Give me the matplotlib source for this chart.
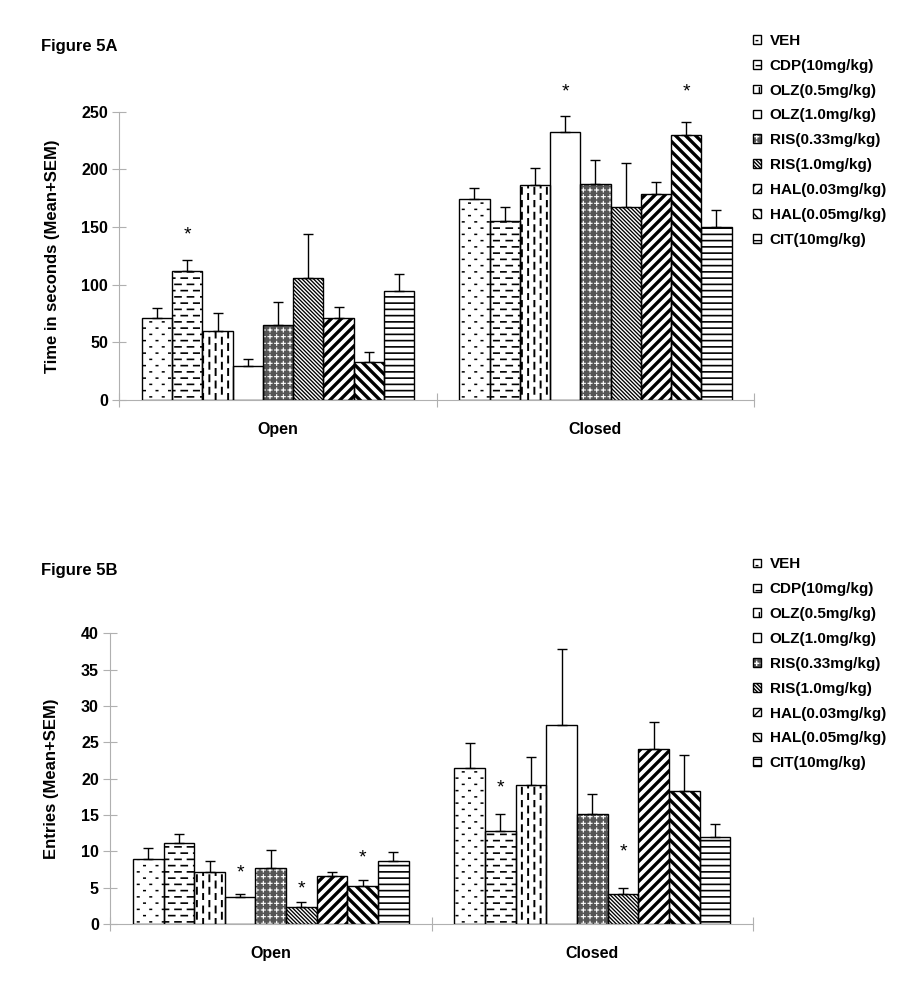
import warnings
import numpy as np
import matplotlib
matplotlib.use('Agg')
import matplotlib.pyplot as plt
from matplotlib import hatch as mhatch
from matplotlib.path import Path

warnings.filterwarnings('ignore', message='hatch must consist')

groups = ['Open', 'Closed']
treatments = ['VEH', 'CDP(10mg/kg)', 'OLZ(0.5mg/kg)', 'OLZ(1.0mg/kg)',
              'RIS(0.33mg/kg)', 'RIS(1.0mg/kg)', 'HAL(0.03mg/kg)',
              'HAL(0.05mg/kg)', 'CIT(10mg/kg)']

# Figure 5A: time in seconds
time_open = [71, 112, 60, 29.5, 65, 105.5, 71, 33, 94.5]
time_open_sem = [9, 9.5, 15, 6, 20, 38.5, 10, 9, 15]
time_closed = [174, 155, 186.5, 232.5, 187.5, 167, 179, 230, 150]
time_closed_sem = [10, 12, 15, 14, 21, 38.5, 10, 11, 15]
time_stars = [(0, 1, 143), (1, 3, 267), (1, 7, 267)]  # (group, treatment, height)

# Figure 5B: entries
entries_open = [9.0, 11.1, 7.2, 3.7, 7.7, 2.4, 6.55, 5.2, 8.7]
entries_open_sem = [1.5, 1.3, 1.4, 0.45, 2.5, 0.65, 0.65, 0.9, 1.2]
entries_closed = [21.5, 12.75, 19.1, 27.4, 15.2, 4.1, 24.1, 18.3, 11.9]
entries_closed_sem = [3.4, 2.35, 3.9, 10.4, 2.7, 0.9, 3.65, 4.9, 1.9]
entries_stars = [(0, 3, 7.0), (0, 5, 4.8), (0, 7, 9.1), (1, 1, 18.7), (1, 5, 9.95)]


# --- Excel-like fill patterns as extra hatch types (unit cell = 1 inch) ---
def staggered(nrows, ncols, length, vertical=False):
    segs = []
    for r in range(nrows):
        y = (r + 0.5) / nrows
        off = (r % 2) * 0.5 / ncols
        for c in range(ncols):
            x = c / ncols + off
            segs.append(((x, y), (x + length, y)))
    if vertical:
        segs = [((a[1], a[0]), (b[1], b[0])) for a, b in segs]
    return segs


def pluses(n, arm):
    segs = []
    for r in range(n):
        for c in range(n):
            x, y = (c + 0.5) / n, (r + 0.5) / n
            segs.append(((x - arm, y), (x + arm, y)))
            segs.append(((x, y - arm), (x, y + arm)))
    return segs


def diagonals(n, up):
    segs = []
    for k in range(-n - 1, n + 2):
        c = k / n
        if up:   # y = x + c, c in [-1, 1]
            segs.append(((-0.2, -0.2 + c), (1.2, 1.2 + c)))
        else:    # y = -x + c, c in [0, 2]
            c += 1
            segs.append(((-0.2, 0.2 + c), (1.2, -1.2 + c)))
    return segs


def horizontals(n):
    return [((-0.05, (r + 0.5) / n), (1.05, (r + 0.5) / n)) for r in range(n)]


patterns = {
    'a': staggered(16, 8, 0.015),
    'b': staggered(16, 8, 0.06),
    'c': staggered(16, 8, 0.06, vertical=True),
    'd': pluses(15, 0.02),
    'e': diagonals(26, up=False),
    'f': diagonals(10, up=True),
    'g': diagonals(10, up=False),
    'h': horizontals(16),
}


class SegmentHatch(mhatch.HatchPatternBase):
    def __init__(self, hatch, density):
        self.segs = []
        for ch in hatch:
            self.segs.extend(patterns.get(ch, []))
        self.num_vertices = 2 * len(self.segs)

    def set_vertices_and_codes(self, vertices, codes):
        for i, (p0, p1) in enumerate(self.segs):
            vertices[2 * i] = p0
            vertices[2 * i + 1] = p1
            codes[2 * i] = Path.MOVETO
            codes[2 * i + 1] = Path.LINETO


mhatch._hatch_types.append(SegmentHatch)

# face colour, hatch colour, hatch, hatch linewidth
fills = [
    ('white', 'black', 'a', 1.1),
    ('white', 'black', 'b', 1.2),
    ('white', 'black', 'c', 1.4),
    ('white', 'black', None, 1.0),
    ('#555555', 'white', 'd', 0.8),
    ('white', 'black', 'e', 0.95),
    ('white', 'black', 'f', 2.4),
    ('white', 'black', 'g', 2.4),
    ('white', 'black', 'h', 1.2),
]

plt.rcParams['font.family'] = ['Liberation Sans', 'DejaVu Sans']
plt.rcParams['font.weight'] = 'bold'

bar_w = 0.0953
axis_grey = '#b0b0b0'

fig = plt.figure(figsize=(9.2, 9.96), dpi=100)


def draw_panel(ax, open_vals, open_sem, closed_vals, closed_sem, stars,
               ymax, ystep, ylabel, label_x):
    means = np.array([open_vals, closed_vals])
    sems = np.array([open_sem, closed_sem])
    xs = np.arange(len(groups))
    handles = []
    for i, (face, hcol, hatch, hlw) in enumerate(fills):
        x = xs + (i - 4) * bar_w
        with plt.rc_context({'hatch.linewidth': hlw}):
            fill = ax.bar(x, means[:, i], bar_w, color=face, edgecolor=hcol,
                          linewidth=0, hatch=hatch, zorder=2)
        for p in fill:
            if hasattr(p, 'set_hatch_linewidth'):
                p.set_hatch_linewidth(hlw)
        outline = ax.bar(x, means[:, i], bar_w, facecolor='none',
                         edgecolor='black', linewidth=1, zorder=3)
        ax.errorbar(x, means[:, i], yerr=[np.zeros(len(xs)), sems[:, i]],
                    fmt='none', ecolor='black', elinewidth=1, capsize=3.5,
                    capthick=1, zorder=4)
        handles.append((fill[0], outline[0]))

    for g, i, y in stars:
        ax.text(g + (i - 4) * bar_w, y, '*', ha='center', va='center',
                fontsize=14, fontweight='normal')

    ax.set_xlim(-0.5, 1.5)
    ax.set_ylim(0, ymax)
    ax.set_yticks(np.arange(0, ymax + 1, ystep))
    ax.set_xticks(xs, groups)
    ax.set_xticks([-0.5, 0.5, 1.5], minor=True)
    ax.tick_params(axis='x', which='major', length=0, pad=16, labelsize=11.5)
    ax.tick_params(axis='x', which='minor', length=10, direction='inout',
                   color=axis_grey, width=0.8)
    ax.tick_params(axis='y', length=10, direction='inout', color=axis_grey,
                   width=0.8, labelsize=11.5, pad=3)
    for s in ['top', 'right']:
        ax.spines[s].set_visible(False)
    for s in ['left', 'bottom']:
        ax.spines[s].set_color(axis_grey)
        ax.spines[s].set_linewidth(0.8)
    ax.set_ylabel(ylabel, fontsize=12, fontweight='bold')
    ax.yaxis.set_label_coords(label_x, 0.5)
    return handles


ax_a = fig.add_axes([0.1297, 0.5984, 0.690, 0.2895])
h_a = draw_panel(ax_a, time_open, time_open_sem, time_closed, time_closed_sem,
                 time_stars, 250, 50, 'Time in seconds (Mean+SEM)', -0.093)

ax_b = fig.add_axes([0.1196, 0.0723, 0.699, 0.2919])
h_b = draw_panel(ax_b, entries_open, entries_open_sem, entries_closed,
                 entries_closed_sem, entries_stars, 40, 5,
                 'Entries (Mean+SEM)', -0.079)

legend_kw = dict(loc='upper left', frameon=False, fontsize=11,
                 handlelength=0.5, handleheight=0.5, handletextpad=0.6,
                 labelspacing=0.71, borderpad=0, borderaxespad=0)
fig.legend(h_a, treatments, bbox_to_anchor=(0.8185, 0.966), **legend_kw)
fig.legend(h_b, treatments, bbox_to_anchor=(0.8185, 0.4403), **legend_kw)

fig.text(40.7 / 920, 1 - 46 / 996, 'Figure 5A', fontsize=12, va='center')
fig.text(40.7 / 920, 1 - 570 / 996, 'Figure 5B', fontsize=12, va='center')

fig.savefig('out.png', dpi=100)
